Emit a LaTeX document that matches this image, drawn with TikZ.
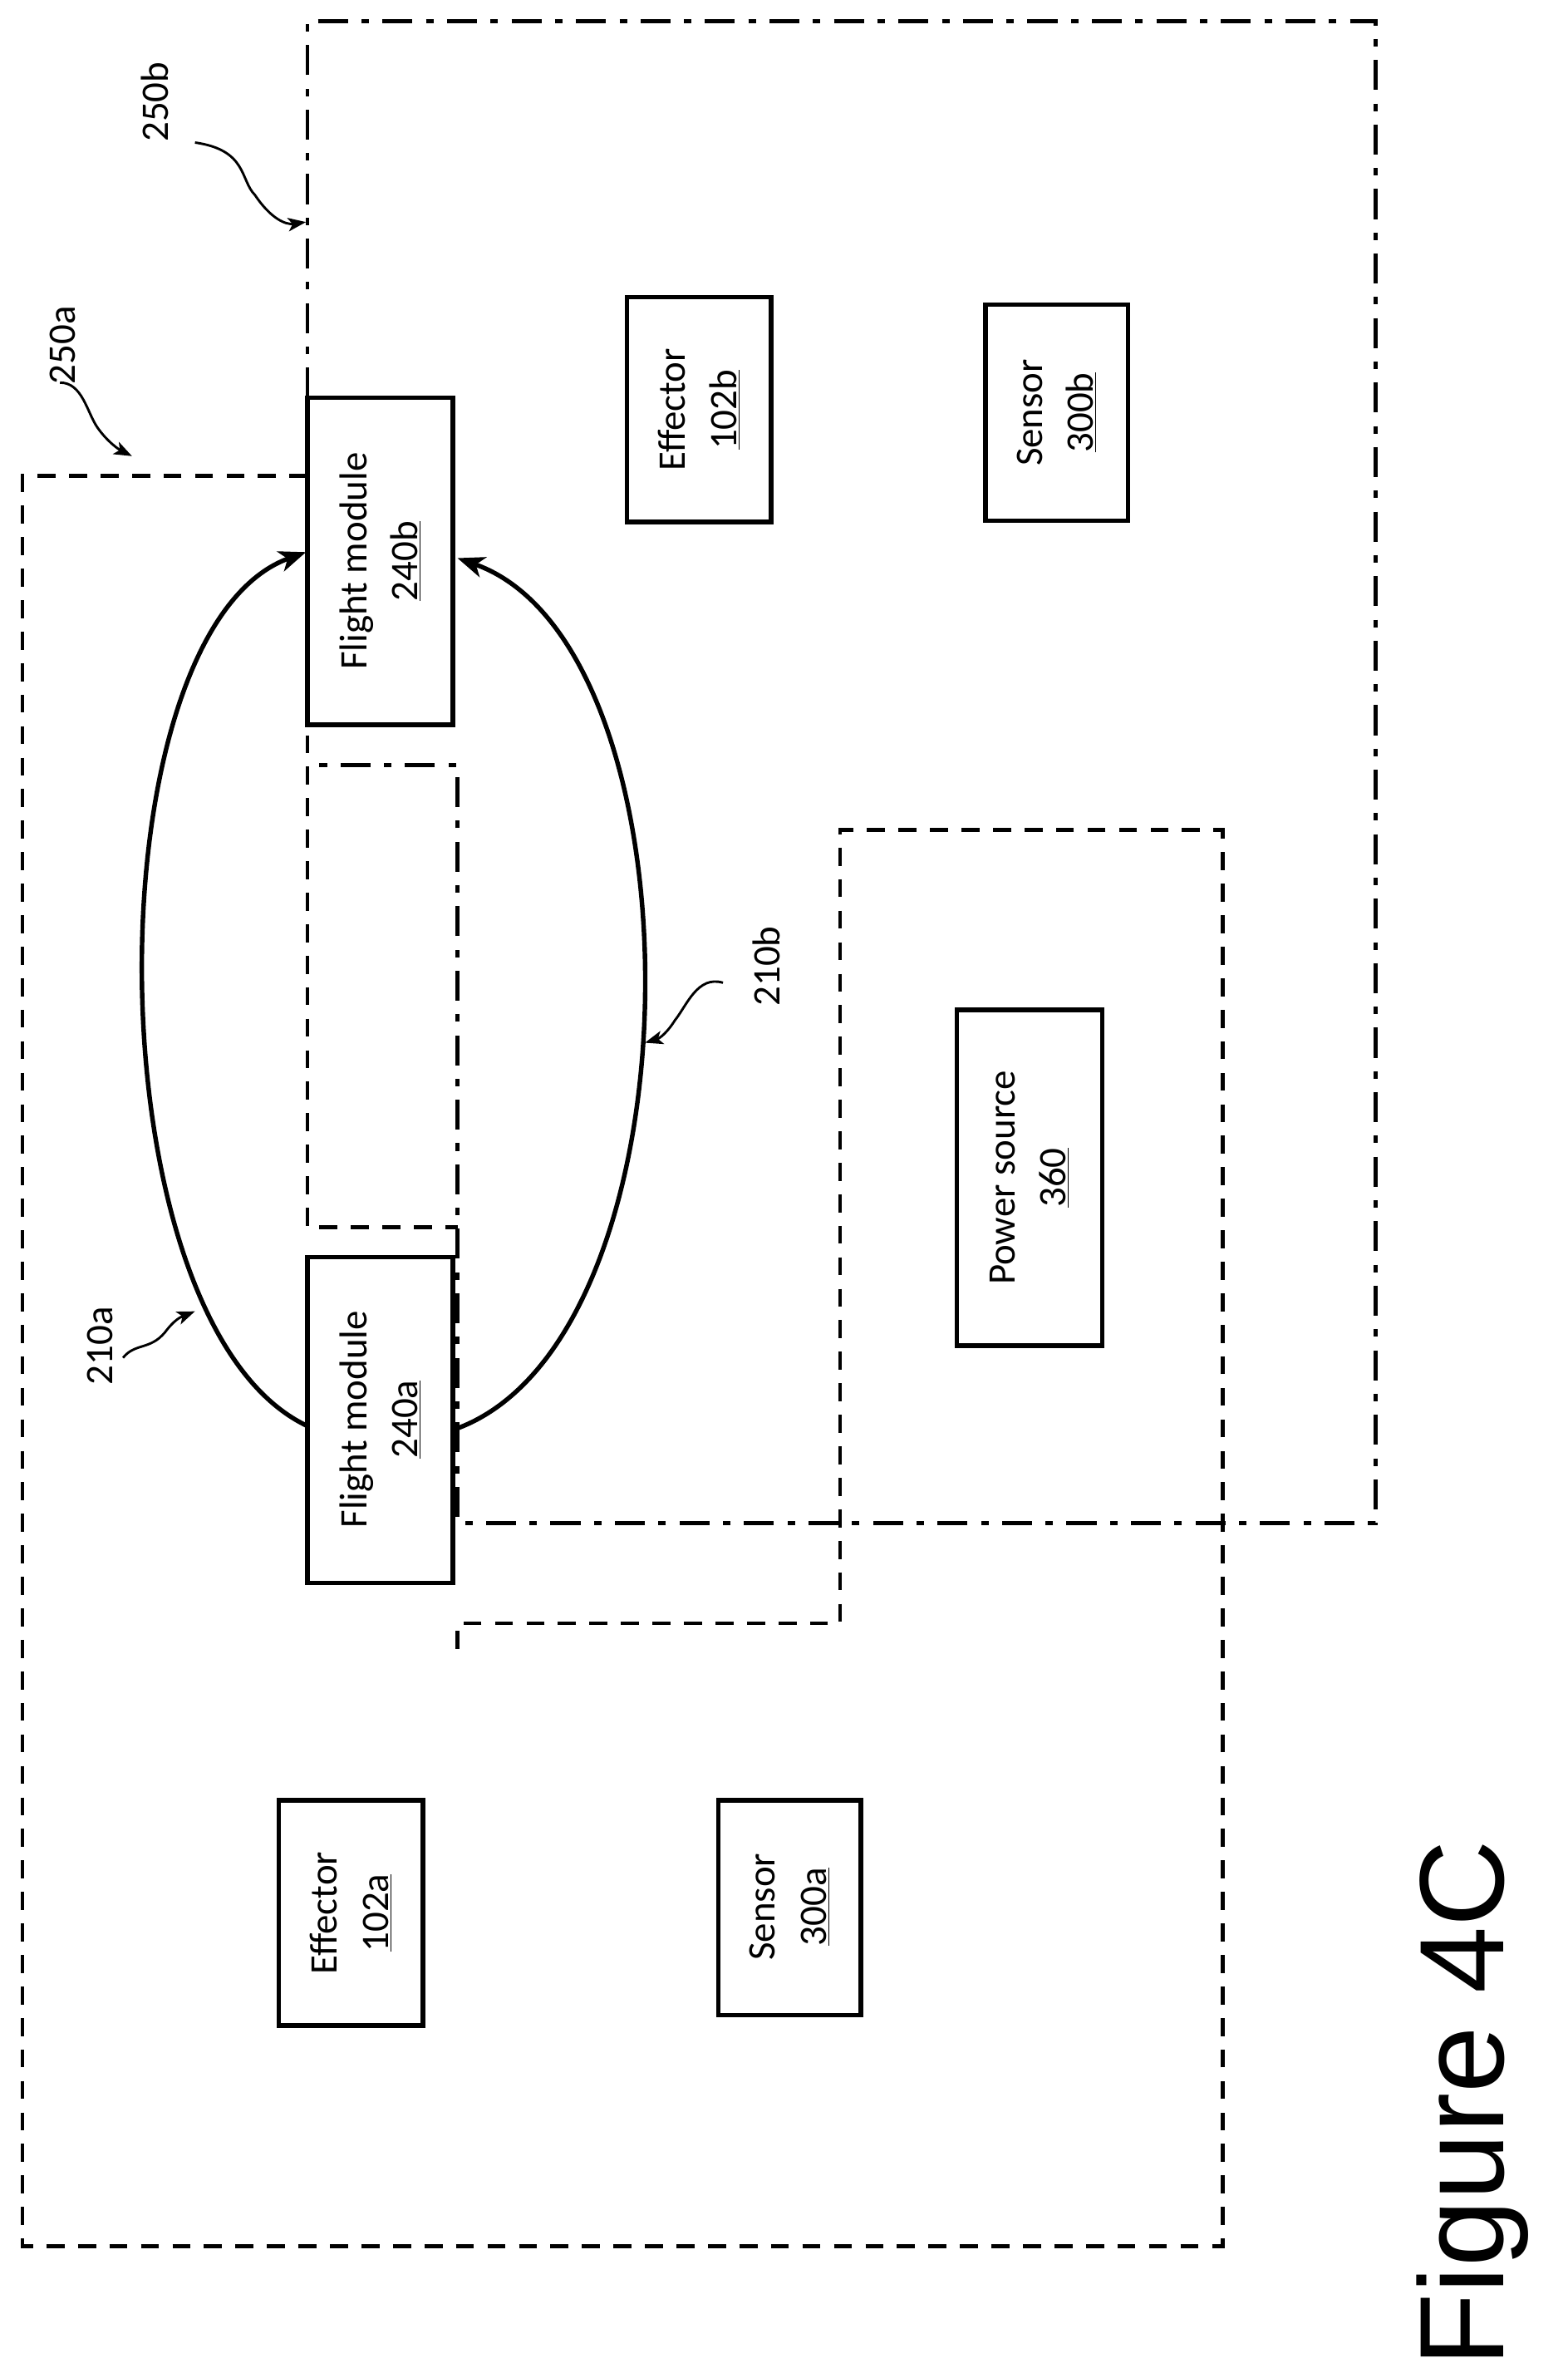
\documentclass[tikz,border=0pt]{standalone}
\usepackage{fontspec}
\setmainfont{Carlito}
\newfontfamily\figfont{Liberation Sans}
\usetikzlibrary{arrows.meta}
\begin{document}
\begin{tikzpicture}[x=1pt,y=-1pt,
  box/.style={draw,line width=3pt,rectangle,inner sep=0pt},
  lbl/.style={rotate=90,align=center,font=\fontsize{26}{34}\selectfont},
  dsh/.style={line width=2.6pt,dash pattern=on 12pt off 9pt},
  dshdot/.style={line width=2.6pt,dash pattern=on 20pt off 9pt on 5pt off 9pt},
  arc/.style={line width=3pt,-{Stealth[length=18pt,width=14pt,inset=5pt]},{Stealth[length=18pt,width=14pt,inset=5pt]}-},
  sq/.style={line width=1.6pt,-{Stealth[length=12pt,width=9pt,inset=3pt]}},
  ref/.style={rotate=90,font=\fontsize{26}{30}\selectfont}]
\useasboundingbox (0,0) rectangle (1045,1575);
% boundaries
\draw[dshdot] (205,265) -- (205,14) -- (917,14) -- (917,1015) -- (305,1015) -- (305,510) -- (205,510);
\draw[dsh] (205,317) -- (15,317) -- (15,1497) -- (815,1497) -- (815,553) -- (560,553) -- (560,1082) -- (305,1082) -- (305,1100);
\draw[dsh] (205,490) -- (205,818) -- (305,818);
% boxes
\draw[box,fill=white] (205,265) rectangle (302,483);
\node[lbl] (fmb) at (253.5,374) {Flight module\\\underline{240b}};
\draw[box,fill=white] (205,838) rectangle (302,1055);
\node[lbl] (fma) at (253.5,946) {Flight module\\\underline{240a}};
\draw[box] (418,198) rectangle (514,348);
\node[lbl] (efb) at (466,273) {Effector\\\underline{102b}};
\draw[box] (657,203) rectangle (752,347);
\node[lbl] (seb) at (704.5,275) {Sensor\\\underline{300b}};
\draw[box] (638,673) rectangle (735,897);
\node[lbl] (pow) at (686.5,785) {Power source\\\underline{360}};
\draw[box] (186,1200) rectangle (282,1350);
\node[lbl] (efa) at (234,1275) {Effector\\\underline{102a}};
\draw[box] (479,1200) rectangle (574,1343);
\node[lbl] (sea) at (526.5,1271) {Sensor\\\underline{300a}};
% arcs
\coordinate (a1) at (204,368);
\coordinate (a2) at (204,950);
\coordinate (b1) at (305,372);
\coordinate (b2) at (305,952);
\draw[arc] (a1) .. controls (60,420) and (60,880) .. (a2);
\draw[arc] (b1) .. controls (470,430) and (470,890) .. (b2);
% reference labels
\node[ref] (l250b) at (103,68) {250b};
\draw[sq] (130,95) .. controls (165,100) and (160,120) .. (170,130) .. controls (180,145) and (190,150) .. (204,148);
\node[ref] (l250a) at (42,230) {250a};
\draw[sq] (40,255) .. controls (55,255) and (58,275) .. (65,285) .. controls (72,295) and (80,300) .. (88,304);
\node[ref] (l210a) at (67,897) {210a};
\draw[sq] (82,905) .. controls (90,895) and (100,900) .. (110,888) .. controls (116,880) and (120,878) .. (130,874);
\node[ref] (l210b) at (511,644) {210b};
\draw[sq] (482,655) .. controls (465,650) and (458,670) .. (450,680) .. controls (445,688) and (440,692) .. (430,695);
\node[rotate=90,font=\figfont\fontsize{80}{90}\selectfont] (fig) at (982,1402) {Figure 4C};
\end{tikzpicture}
\end{document}
